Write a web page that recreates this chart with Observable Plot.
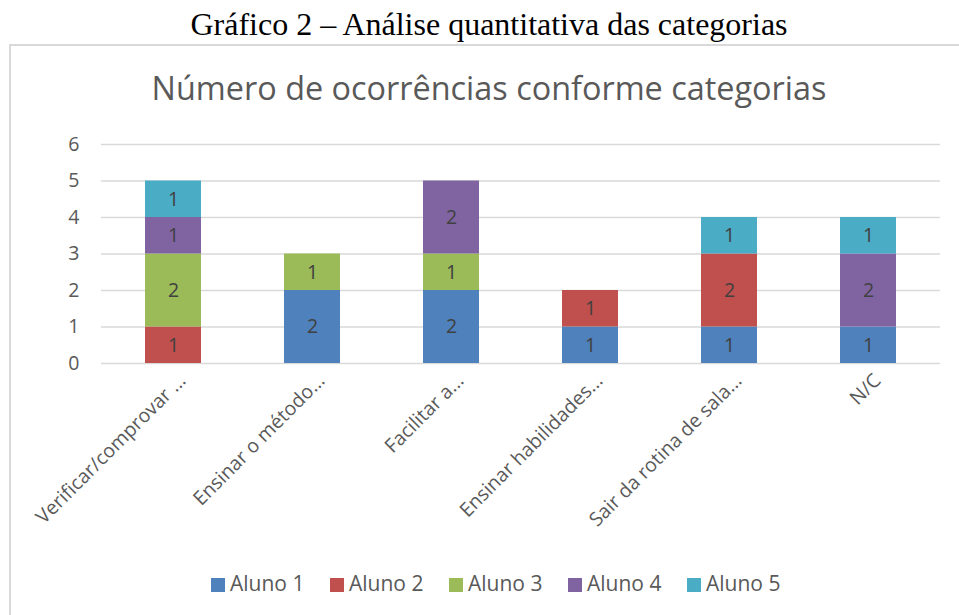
<!DOCTYPE html>
<html>
<head>
<meta charset="utf-8">
<script src="https://cdn.jsdelivr.net/npm/d3@7"></script>
<script src="https://cdn.jsdelivr.net/npm/@observablehq/plot@0.6"></script>
<style>
  html, body { margin: 0; padding: 0; background: #fff; overflow: hidden; }
  #page { position: relative; width: 959px; height: 615px; overflow: hidden; }
  #outerTitle { position: absolute; left: 0; width: 978px; top: 6px; text-align: center;
    font-family: "Liberation Serif", "Times New Roman", serif; font-size: 32px; color: #000; line-height: 36px; }
  #hline { position: absolute; left: 9px; top: 44px; width: 960px; height: 1.5px; background: #d9d9d9; }
  #vline { position: absolute; left: 9px; top: 44px; width: 1.5px; height: 571px; background: #d9d9d9; }
  #innerTitle { position: absolute; left: 0; width: 978px; top: 66px; text-align: center;
    font-family: "Open Sans", sans-serif; font-size: 32.4px; color: #595959; line-height: 42px; }
  #chart { position: absolute; left: 0; top: 45px; }
  #legend { position: absolute; left: 211px; top: 568px; font-family: "Open Sans", sans-serif; font-size: 21px; color: #595959; white-space: nowrap; line-height: 30px; }
  .item { display: inline-block; width: 119px; }
  .sw { display: inline-block; width: 14px; height: 14px; margin-right: 5px; vertical-align: -1px; }
</style>
</head>
<body>
<div id="page">
  <div id="outerTitle">Gráfico 2 – Análise quantitativa das categorias</div>
  <div id="hline"></div>
  <div id="vline"></div>
  <div id="innerTitle">Número de ocorrências conforme categorias</div>
  <div id="chart"></div>
  <div id="legend"></div>
</div>
<script>
const categories = ["Verificar/comprovar ...", "Ensinar o método...", "Facilitar a...", "Ensinar habilidades...", "Sair da rotina de sala...", "N/C"];
const series = ["Aluno 1", "Aluno 2", "Aluno 3", "Aluno 4", "Aluno 5"];
const colors = ["#4F81BD", "#C0504D", "#9BBB59", "#8064A2", "#4BACC6"];
const aluno1 = [0, 2, 2, 1, 1, 1];
const aluno2 = [1, 0, 0, 1, 2, 0];
const aluno3 = [2, 1, 1, 0, 0, 0];
const aluno4 = [1, 0, 2, 0, 0, 2];
const aluno5 = [1, 0, 0, 0, 1, 1];
const yTicks = [0, 1, 2, 3, 4, 5, 6];

const values = [aluno1, aluno2, aluno3, aluno4, aluno5];
const data = [];
categories.forEach((c, i) => {
  series.forEach((s, j) => {
    if (values[j][i] > 0) data.push({categoria: c, aluno: s, valor: values[j][i]});
  });
});

const chart = Plot.plot({
  width: 959,
  height: 515,
  marginTop: 99,
  marginBottom: 197,
  marginLeft: 101,
  marginRight: 19,
  style: {fontFamily: "'Open Sans', sans-serif", background: "transparent"},
  x: {domain: categories, paddingInner: 0.6, paddingOuter: 0.3, label: null},
  y: {domain: [0, 6], label: null},
  color: {domain: series, range: colors},
  marks: [
    Plot.ruleY(yTicks, {stroke: "#d9d9d9", strokeWidth: 1.5}),
    Plot.barY(data, {x: "categoria", y: "valor", fill: "aluno", order: series}),
    Plot.text(data, Plot.stackY({x: "categoria", y: "valor", z: "aluno", order: series, text: "valor", fill: "#404040", fontSize: 19.5})),
    Plot.axisY({ticks: yTicks, tickFormat: "d", tickSize: 0, tickPadding: 22, fontSize: 19.5, fill: "#595959", label: null}),
    Plot.axisX({tickSize: 0, tickRotate: -45, tickPadding: 14, fontSize: 19.5, fill: "#595959", label: null, dx: 9})
  ]
});
document.getElementById("chart").appendChild(chart);

const legend = document.getElementById("legend");
series.forEach((s, i) => {
  const it = document.createElement("span");
  it.className = "item";
  it.innerHTML = `<span class="sw" style="background:${colors[i]}"></span>${s}`;
  legend.appendChild(it);
});
</script>
</body>
</html>
